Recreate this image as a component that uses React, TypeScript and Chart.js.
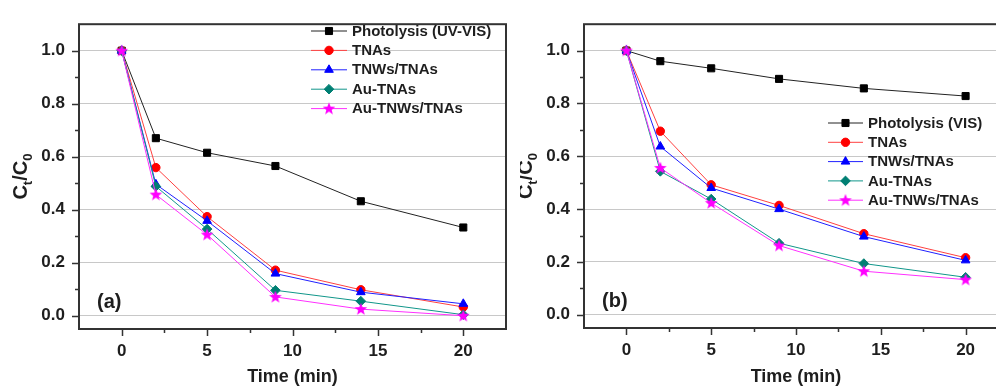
import React, { useEffect, useRef } from 'react';
import { Chart, registerables } from 'chart.js';
import { drawPoint } from 'chart.js/helpers';

Chart.register(...registerables);

// ---------- data ----------
const timeMin = [0, 2, 5, 9, 14, 20];

const photolysisA = [1.0, 0.67, 0.615, 0.565, 0.432, 0.333];
const tnasA = [1.0, 0.559, 0.374, 0.172, 0.098, 0.033];
const tnwsA = [1.0, 0.496, 0.358, 0.159, 0.089, 0.045];
const auTnasA = [1.0, 0.488, 0.327, 0.096, 0.055, 0.004];
const auTnwsA = [1.0, 0.457, 0.306, 0.071, 0.025, 0.0];

const photolysisB = [1.0, 0.96, 0.933, 0.893, 0.857, 0.828];
const tnasB = [1.0, 0.695, 0.492, 0.414, 0.307, 0.216];
const tnwsB = [1.0, 0.637, 0.48, 0.4, 0.296, 0.206];
const auTnasB = [1.0, 0.543, 0.438, 0.271, 0.194, 0.142];
const auTnwsB = [1.0, 0.556, 0.423, 0.262, 0.165, 0.133];

const seriesLabels = ['TNAs', 'TNWs/TNAs', 'Au-TNAs', 'Au-TNWs/TNAs'];
const photolysisLabelA = 'Photolysis (UV-VIS)';
const photolysisLabelB = 'Photolysis (VIS)';

const xTicks = [0, 5, 10, 15, 20];
const xMinorTicks = [2.5, 7.5, 12.5, 17.5];
const yTicks = [0, 0.2, 0.4, 0.6, 0.8, 1.0];
const yMinorTicks = [0.1, 0.3, 0.5, 0.7, 0.9];

const xTitle = 'Time (min)';

// ---------- styles ----------
const FONT = '"Liberation Sans", Arial, sans-serif';
const TEXT = '#1e1e1e';
const AXIS = '#333333';

function makeStar(color: string): HTMLCanvasElement {
  const c = document.createElement('canvas');
  c.width = 14;
  c.height = 14;
  const g = c.getContext('2d')!;
  const cx = 7, cy = 7.3, R = 6.6, r = 2.8;
  g.beginPath();
  for (let i = 0; i < 10; i++) {
    const a = -Math.PI / 2 + (i * Math.PI) / 5;
    const rad = i % 2 === 0 ? R : r;
    const px = cx + rad * Math.cos(a);
    const py = cy + rad * Math.sin(a);
    if (i === 0) g.moveTo(px, py);
    else g.lineTo(px, py);
  }
  g.closePath();
  g.fillStyle = color;
  g.fill();
  return c;
}

type PanelProps = {
  left: number;
  width: number;
  yAxisWidth: number;
  xAxisHeight: number;
  padTop: number;
  padRight: number;
  photolysisLabel: string;
  series: number[][];
  panelLabel: string;
  legendLineX0: number;
  legendLineX1: number;
  legendTextX: number;
  legendTop: number;
  legendGap: number;
};

function Panel(p: PanelProps) {
  const ref = useRef<HTMLCanvasElement>(null);

  useEffect(() => {
    if (!ref.current) return;
    const star = makeStar('#ff00ff');
    const styles = [
      { color: '#000000', line: '#222222', pointStyle: 'rect', radius: 5 },
      { color: '#ff0000', line: '#ff4040', pointStyle: 'circle', radius: 4.2 },
      { color: '#0000ff', line: '#2020ff', pointStyle: 'triangle', radius: 5 },
      { color: '#007f73', line: '#10968a', pointStyle: 'rectRot', radius: 4.8 },
      { color: '#ff00ff', line: '#ff30ff', pointStyle: star as any, radius: 6 },
    ];
    const labels = [p.photolysisLabel, ...seriesLabels];
    const datasets = p.series.map((vals, i) => ({
      label: labels[i],
      data: timeMin.map((t, j) => ({ x: t, y: vals[j] })),
      borderColor: styles[i].line,
      backgroundColor: styles[i].color,
      borderWidth: 1,
      pointStyle: styles[i].pointStyle,
      pointRadius: styles[i].radius,
      pointBackgroundColor: styles[i].color,
      pointBorderColor: styles[i].color,
      pointBorderWidth: 1,
      tension: 0,
      fill: false,
      order: 5 - i,
    }));

    const deco = {
      id: 'deco',
      afterDraw(chart: any) {
        const ctx = chart.ctx as CanvasRenderingContext2D;
        const ca = chart.chartArea;
        const xs = chart.scales.x;
        const ys = chart.scales.y;
        ctx.save();
        // frame
        ctx.strokeStyle = AXIS;
        ctx.lineWidth = 2;
        ctx.strokeRect(ca.left, ca.top, ca.right - ca.left, ca.bottom - ca.top);
        // tick marks
        ctx.lineWidth = 1.5;
        ctx.beginPath();
        xTicks.forEach((v) => {
          const px = Math.round(xs.getPixelForValue(v)) + 0.5;
          ctx.moveTo(px, ca.bottom);
          ctx.lineTo(px, ca.bottom + 7);
        });
        xMinorTicks.forEach((v) => {
          const px = Math.round(xs.getPixelForValue(v)) + 0.5;
          ctx.moveTo(px, ca.bottom);
          ctx.lineTo(px, ca.bottom + 4);
        });
        yTicks.forEach((v) => {
          const py = Math.round(ys.getPixelForValue(v)) + 0.5;
          ctx.moveTo(ca.left, py);
          ctx.lineTo(ca.left - 7, py);
        });
        yMinorTicks.forEach((v) => {
          const py = Math.round(ys.getPixelForValue(v)) + 0.5;
          ctx.moveTo(ca.left, py);
          ctx.lineTo(ca.left - 4, py);
        });
        ctx.stroke();

        // y-axis title C_t/C_0
        ctx.save();
        ctx.translate(ca.left - 52, (ca.top + ca.bottom) / 2);
        ctx.rotate(-Math.PI / 2);
        const big = `bold 20px ${FONT}`;
        const small = `bold 13px ${FONT}`;
        const parts = [
          { t: 'C', f: big, dy: 0 },
          { t: 't', f: small, dy: 5 },
          { t: '/C', f: big, dy: 0 },
          { t: '0', f: small, dy: 5 },
        ];
        let total = 0;
        const widths = parts.map((pt) => {
          ctx.font = pt.f;
          const w = ctx.measureText(pt.t).width;
          total += w;
          return w;
        });
        let cx = -total / 2;
        ctx.fillStyle = TEXT;
        ctx.textBaseline = 'alphabetic';
        ctx.textAlign = 'left';
        parts.forEach((pt, i) => {
          ctx.font = pt.f;
          ctx.fillText(pt.t, cx, pt.dy);
          cx += widths[i];
        });
        ctx.restore();

        // panel label
        ctx.font = `bold 20px ${FONT}`;
        ctx.fillStyle = TEXT;
        ctx.textAlign = 'left';
        ctx.textBaseline = 'middle';
        ctx.fillText(p.panelLabel, ca.left + 18, ys.getPixelForValue(0.05));

        // legend
        chart.data.datasets.forEach((ds: any, i: number) => {
          const y = p.legendTop + i * p.legendGap;
          ctx.strokeStyle = ds.borderColor;
          ctx.lineWidth = 1;
          ctx.beginPath();
          ctx.moveTo(p.legendLineX0, y + 0.5);
          ctx.lineTo(p.legendLineX1, y + 0.5);
          ctx.stroke();
          ctx.fillStyle = ds.pointBackgroundColor;
          ctx.strokeStyle = ds.pointBorderColor;
          drawPoint(
            ctx,
            { pointStyle: ds.pointStyle, radius: ds.pointRadius, rotation: 0, borderWidth: 1 } as any,
            (p.legendLineX0 + p.legendLineX1) / 2,
            y + 0.5
          );
          ctx.font = `bold 15px ${FONT}`;
          ctx.fillStyle = TEXT;
          ctx.textAlign = 'left';
          ctx.textBaseline = 'middle';
          ctx.fillText(ds.label, p.legendTextX, y + 1);
        });
        ctx.restore();
      },
    };

    const chart = new Chart(ref.current, {
      type: 'line',
      data: { datasets: datasets as any },
      options: {
        animation: false,
        responsive: false,
        maintainAspectRatio: false,
        devicePixelRatio: 1,
        layout: { padding: { top: p.padTop, right: p.padRight, left: 0, bottom: 0 } },
        plugins: {
          legend: { display: false },
          tooltip: { enabled: false },
        },
        scales: {
          x: {
            type: 'linear',
            min: -2.5,
            max: 22.5,
            afterBuildTicks: (s: any) => {
              s.ticks = xTicks.map((v) => ({ value: v }));
            },
            afterFit: (s: any) => {
              s.height = p.xAxisHeight;
            },
            grid: { display: false, drawTicks: false },
            border: { display: false },
            ticks: {
              font: { family: FONT, size: 17, weight: 'bold' },
              color: TEXT,
              padding: 12,
              maxRotation: 0,
              callback: (v: any) => String(v),
            },
            title: {
              display: true,
              text: xTitle,
              font: { family: FONT, size: 18, weight: 'bold' },
              color: TEXT,
              padding: { top: 0, bottom: 0 },
            },
          },
          y: {
            type: 'linear',
            min: -0.05,
            max: 1.1,
            afterBuildTicks: (s: any) => {
              s.ticks = yTicks.map((v) => ({ value: v }));
            },
            afterFit: (s: any) => {
              s.width = p.yAxisWidth;
            },
            grid: { drawTicks: false, color: '#c8c8c8', lineWidth: 1 },
            border: { display: false },
            ticks: {
              font: { family: FONT, size: 17, weight: 'bold' },
              color: TEXT,
              padding: 14,
              callback: (v: any) => Number(v).toFixed(1),
            },
          },
        },
      },
      plugins: [deco],
    });
    return () => chart.destroy();
  }, []);

  return (
    <canvas
      ref={ref}
      width={p.width}
      height={388}
      style={{ position: 'absolute', left: p.left, top: 0, width: p.width, height: 388 }}
    />
  );
}

export default function App() {
  return (
    <div
      style={{
        position: 'fixed',
        left: 0,
        top: 0,
        width: 996,
        height: 388,
        overflow: 'hidden',
        background: '#ffffff',
      }}
    >
      <Panel
        left={0}
        width={520}
        yAxisWidth={79}
        xAxisHeight={59}
        padTop={16}
        padRight={14}
        photolysisLabel={photolysisLabelA}
        series={[photolysisA, tnasA, tnwsA, auTnasA, auTnwsA]}
        panelLabel="(a)"
        legendLineX0={311}
        legendLineX1={347}
        legendTextX={352}
        legendTop={30.5}
        legendGap={19.4}
      />
      <Panel
        left={520}
        width={520}
        yAxisWidth={64}
        xAxisHeight={60}
        padTop={16}
        padRight={32}
        photolysisLabel={photolysisLabelB}
        series={[photolysisB, tnasB, tnwsB, auTnasB, auTnwsB]}
        panelLabel="(b)"
        legendLineX0={308}
        legendLineX1={343}
        legendTextX={348}
        legendTop={122.5}
        legendGap={19.3}
      />
    </div>
  );
}
